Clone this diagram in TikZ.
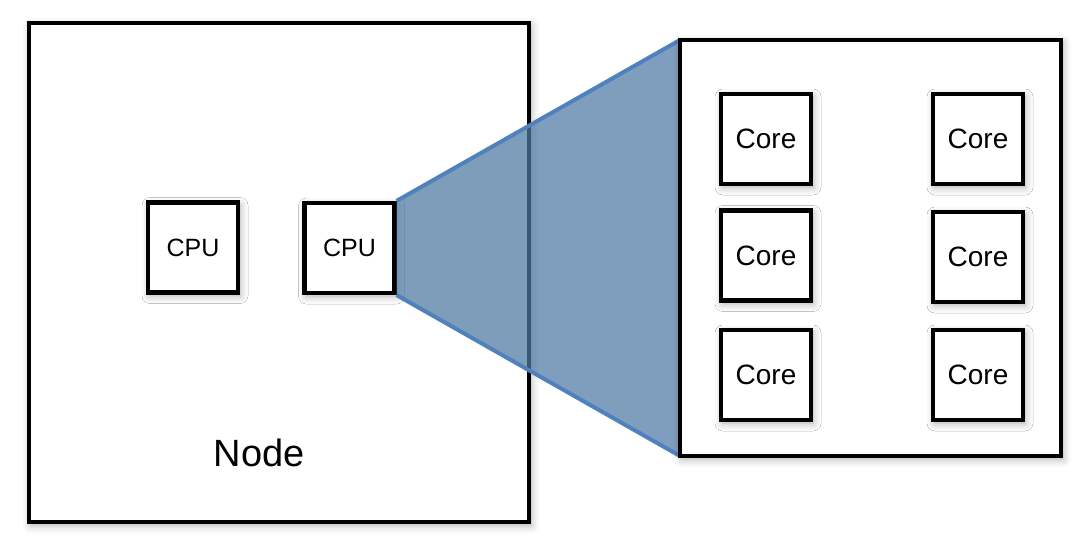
\documentclass[tikz,border=0pt]{standalone}
\usepackage{fontspec}
\setmainfont{Liberation Sans}
\usepackage{xcolor}
\usetikzlibrary{positioning,shadows.blur}

\definecolor{zoomblue}{RGB}{79,129,189}
\definecolor{zoomfill}{RGB}{79,121,163}

\begin{document}
\begin{tikzpicture}[
  x=0.5pt, y=-0.5pt,
  box/.style={
    draw=black, line width=2.1pt, fill=white, inner sep=0pt,
    blur shadow={shadow xshift=1pt, shadow yshift=-1.5pt,
      shadow blur radius=4pt, shadow opacity=35}
  },
  chip/.style={box, minimum width=45pt, minimum height=45pt},
  cpu/.style={chip, font=\fontsize{12.5}{14}\selectfont},
  core/.style={chip, font=\fontsize{14}{16}\selectfont},
  zoom/.style={fill=zoomfill, fill opacity=0.73},
  edge/.style={zoomblue, line width=2pt}
]
  \useasboundingbox (0,0) rectangle (1081,546);

  % compute node
  \node[box, minimum width=250pt, minimum height=249.5pt] (node) at (279,272.5) {};
  \node[font=\fontsize{19}{22}\selectfont] (nodelabel) at (259,453) {Node};
  \node[cpu] (cpu1) at (193,247.5) {CPU};
  \node[cpu] (cpu2) at (349.5,248) {CPU};

  % zoomed view of the second cpu
  \coordinate (zoom nw) at (680,40);
  \coordinate (zoom sw) at (680,456);
  \fill[zoom] (cpu2.north east) -- (zoom nw) -- (zoom sw) -- (cpu2.south east) -- cycle;
  \draw[edge] (cpu2.north east) -- (zoom nw);
  \draw[edge] (cpu2.south east) -- (zoom sw);

  \node[box, minimum width=190.5pt, minimum height=208pt] (cpubox) at (870.5,248) {};
  \foreach \n/\x/\y in {a/766/139, b/978/139, c/766/255.5, d/978/257, e/766/375, f/978/375}
    \node[core] (core\n) at (\x,\y) {Core};
\end{tikzpicture}
\end{document}
